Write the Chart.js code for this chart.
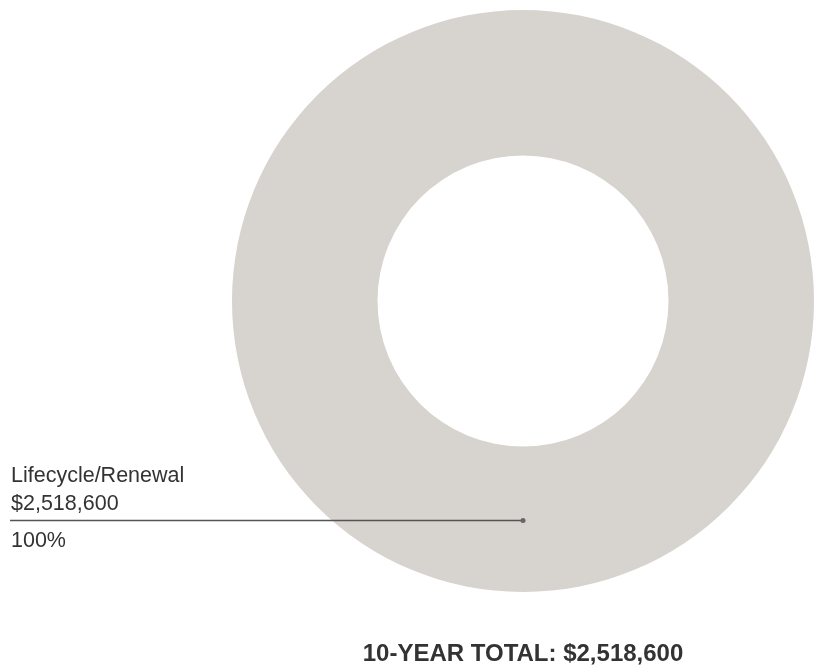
<!DOCTYPE html>
<html>
<head>
<meta charset="utf-8">
<script src="https://cdn.jsdelivr.net/npm/chart.js@4/dist/chart.umd.min.js"></script>
<style>
  html, body { margin: 0; padding: 0; background: #fff; }
  #wrap { width: 817px; height: 666px; position: relative; }
</style>
</head>
<body>
<div id="wrap"><canvas id="c" width="817" height="666"></canvas></div>
<script>
const categories = ["Lifecycle/Renewal"];
const values = [2518600];
const colors = ["#d7d3ce"];
const totalLabel = "10-YEAR TOTAL: $2,518,600";

const fmt = v => "$" + v.toLocaleString("en-US");
const total = values.reduce((a, b) => a + b, 0);

const labelPlugin = {
  id: "calloutLabels",
  afterDatasetsDraw(chart) {
    const ctx = chart.ctx;
    const meta = chart.getDatasetMeta(0);
    meta.data.forEach((arc, i) => {
      const p = arc.getCenterPoint();
      const lineY = Math.round(p.y) + 1.5;
      ctx.save();
      ctx.strokeStyle = "#555555";
      ctx.lineWidth = 1.5;
      ctx.beginPath();
      ctx.moveTo(10, lineY);
      ctx.lineTo(p.x, lineY);
      ctx.stroke();
      ctx.fillStyle = "#666666";
      ctx.beginPath();
      ctx.arc(p.x, lineY, 2.5, 0, Math.PI * 2);
      ctx.fill();
      ctx.fillStyle = "#333333";
      ctx.font = "21.5px 'Liberation Sans', Arial, sans-serif";
      ctx.textAlign = "left";
      ctx.textBaseline = "alphabetic";
      ctx.fillText(categories[i], 11, lineY - 39);
      ctx.fillText(fmt(values[i]), 11, lineY - 11);
      ctx.fillText(Math.round(values[i] / total * 100) + "%", 11, lineY + 26);
      ctx.restore();
    });
    ctx.save();
    ctx.fillStyle = "#333333";
    ctx.font = "bold 24px 'Liberation Sans', Arial, sans-serif";
    ctx.textAlign = "center";
    ctx.textBaseline = "alphabetic";
    const cx = (chart.chartArea.left + chart.chartArea.right) / 2;
    ctx.fillText(totalLabel, cx, 661);
    ctx.restore();
  }
};

new Chart(document.getElementById("c"), {
  type: "doughnut",
  data: {
    labels: categories,
    datasets: [{
      data: values,
      backgroundColor: colors,
      borderWidth: 0,
      hoverOffset: 0
    }]
  },
  options: {
    responsive: false,
    animation: false,
    cutout: "50%",
    layout: { padding: { top: 10, bottom: 74, left: 232, right: 3 } },
    plugins: {
      legend: { display: false },
      tooltip: { enabled: false },
      title: { display: false }
    }
  },
  plugins: [labelPlugin]
});
</script>
</body>
</html>
